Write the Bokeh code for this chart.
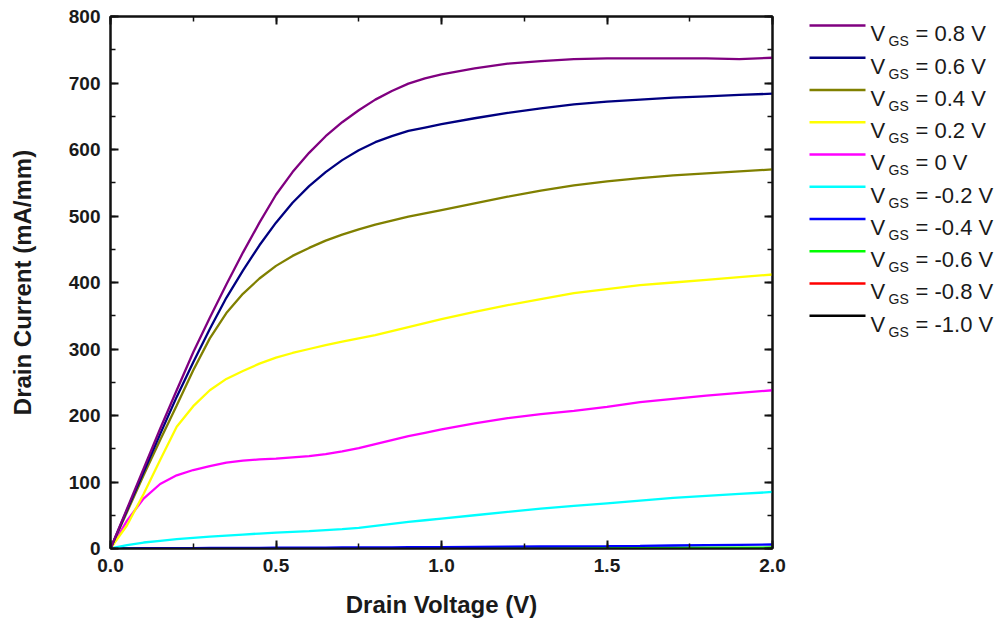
from bokeh.plotting import figure
from bokeh.models import Range1d, LinearAxis, SingleIntervalTicker, CustomJSTickFormatter, NumeralTickFormatter
from bokeh.layouts import row
from bokeh.core.properties import value
from bokeh.embed import file_html
from bokeh.resources import INLINE

# ---------------- data ----------------
vd = [0, 0.05, 0.1, 0.15, 0.2, 0.25, 0.3, 0.35, 0.4, 0.45, 0.5, 0.55, 0.6, 0.65,
      0.7, 0.75, 0.8, 0.85, 0.9, 0.95, 1.0, 1.1, 1.2, 1.3, 1.4, 1.5, 1.6, 1.7,
      1.8, 1.9, 2.0]

id_m10 = [0] * 31
id_m08 = [0] * 31
id_m06 = [0, 0.1, 0.1, 0.2, 0.2, 0.2, 0.3, 0.3, 0.3, 0.3, 0.4, 0.4, 0.4, 0.4,
          0.5, 0.5, 0.5, 0.5, 0.6, 0.6, 0.6, 0.7, 0.7, 0.8, 0.8, 0.9, 1.0, 1.1,
          1.2, 1.3, 1.5]
id_m04 = [0, 0.2, 0.4, 0.5, 0.6, 0.7, 0.8, 0.9, 1.0, 1.0, 1.1, 1.2, 1.3, 1.4,
          1.5, 1.6, 1.7, 1.8, 1.9, 2.0, 2.1, 2.4, 2.7, 3.0, 3.3, 3.6, 4.0, 4.5,
          5.0, 5.5, 6.0]
id_m02 = [0, 5, 9, 11.5, 14, 16, 18, 19.5, 21, 22.5, 24, 25, 26, 27.5,
          29, 31, 34, 37, 40, 42.5, 45, 50, 55, 60, 64, 68, 72, 76,
          79, 82, 85]
id_p00 = [0, 42, 75, 97, 110, 118, 124, 129, 132, 134, 135, 137, 139, 142,
          146, 151, 157, 163, 169, 174, 179, 188, 196, 202, 207, 213, 220, 225,
          230, 234, 238]
id_p02 = [0, 35, 82, 133, 183, 214, 238, 255, 267, 278, 287, 294, 300, 306,
          311, 316, 321, 327, 333, 339, 345, 356, 366, 375, 384, 390, 396, 400,
          404, 408, 412]
id_p04 = [0, 55, 110, 163, 215, 268, 316, 354, 383, 406, 425, 440, 452, 463,
          472, 480, 487, 493, 499, 504, 509, 519, 529, 538, 546, 552, 557, 561,
          564, 567, 570]
id_p06 = [0, 58, 115, 172, 228, 280, 330, 377, 418, 456, 490, 520, 545, 566,
          584, 599, 611, 620, 628, 633, 638, 647, 655, 662, 668, 672, 675, 678,
          680, 682, 684]
id_p08 = [0, 60, 120, 180, 238, 295, 347, 397, 445, 490, 532, 566, 595, 620,
          641, 659, 675, 688, 699, 707, 713, 722, 729, 733, 736, 737, 737, 737,
          737, 736, 738]

# legend order (top to bottom)
vgs_labels = ["= 0.8 V", "= 0.6 V", "= 0.4 V", "= 0.2 V", "= 0 V",
              "= -0.2 V", "= -0.4 V", "= -0.6 V", "= -0.8 V", "= -1.0 V"]
series = [id_p08, id_p06, id_p04, id_p02, id_p00,
          id_m02, id_m04, id_m06, id_m08, id_m10]
colors = ["#800080", "#000080", "#808000", "#FFFF00", "#FF00FF",
          "#00FFFF", "#0000FF", "#00FF00", "#FF0000", "#000000"]

x_ticks_interval = 0.5
y_ticks_interval = 100

FONT = "Liberation Sans"
TXT = "#1a1a1a"

# ---------------- main plot ----------------
p = figure(width=788, height=620, x_range=Range1d(0, 2), y_range=Range1d(0, 800),
           output_backend="svg", toolbar_location=None,
           min_border_left=110, min_border_right=16, min_border_top=16, min_border_bottom=71)
p.grid.visible = False
p.outline_line_color = "#111111"
p.outline_line_width = 2
p.background_fill_color = "white"
p.border_fill_color = "white"

# draw in Origin order: -1.0 first, 0.8 last (on top)
for ys, c in reversed(list(zip(series, colors))):
    p.line(vd, ys, line_color=c, line_width=2.3)


def style_axis(ax, interval, labels=True):
    ax.ticker = SingleIntervalTicker(interval=interval, num_minor_ticks=2)
    ax.axis_line_color = "#111111"
    ax.axis_line_width = 2
    ax.major_tick_in = 8
    ax.major_tick_out = 0
    ax.minor_tick_in = 5
    ax.minor_tick_out = 0
    ax.major_tick_line_color = "#111111"
    ax.major_tick_line_width = 2
    ax.minor_tick_line_color = "#111111"
    ax.minor_tick_line_width = 1.5
    if labels:
        ax.major_label_text_font = FONT
        ax.major_label_text_font_style = "bold"
        ax.major_label_text_font_size = "19px"
        ax.major_label_text_color = TXT
        ax.axis_label_text_font = FONT
        ax.axis_label_text_font_style = "bold"
        ax.axis_label_text_font_size = "24px"
        ax.axis_label_text_color = TXT
    else:
        ax.formatter = CustomJSTickFormatter(code="return ''")
        ax.major_label_text_font_size = "1px"
        ax.major_label_standoff = 0


xa = p.xaxis[0]
style_axis(xa, x_ticks_interval)
xa.formatter = NumeralTickFormatter(format="0.0")
xa.axis_label = "Drain Voltage (V)"
xa.major_label_standoff = 10
xa.axis_label_standoff = 16

ya = p.yaxis[0]
style_axis(ya, y_ticks_interval)
ya.axis_label = "Drain Current (mA/mm)"
ya.major_label_standoff = 10
ya.axis_label_standoff = 30

top = LinearAxis()
style_axis(top, x_ticks_interval, labels=False)
p.add_layout(top, "above")
right = LinearAxis()
style_axis(right, y_ticks_interval, labels=False)
p.add_layout(right, "right")

# ---------------- legend panel ----------------
# (the row aligns this panel's frame with the main frame: page y 16 .. 549)
lf = figure(width=212, height=620, x_range=Range1d(788, 1000), y_range=Range1d(549, 16),
            output_backend="svg", toolbar_location=None, min_border=0, title=None,
            x_axis_location=None, y_axis_location=None)
lf.grid.visible = False
lf.outline_line_color = None

row_y = [25 + 32.3 * i for i in range(len(vgs_labels))]
lf.segment(x0=809, x1=865, y0=row_y, y1=row_y, line_color=colors, line_width=2.5)
lf.text(x=870, y=[y + 8.5 for y in row_y], text=["V"] * len(row_y),
        text_font=value(FONT), text_font_size="22px", text_color=TXT,
        text_baseline="alphabetic", text_align="left")
lf.text(x=888, y=[y + 16 for y in row_y], text=["GS"] * len(row_y),
        text_font=value(FONT), text_font_size="14px", text_color=TXT,
        text_baseline="alphabetic", text_align="left")
lf.text(x=915, y=[y + 8.5 for y in row_y], text=vgs_labels,
        text_font=value(FONT), text_font_size="22px", text_color=TXT,
        text_baseline="alphabetic", text_align="left")

layout = row(p, lf)
open("out.html", "w").write(file_html(layout, INLINE))
